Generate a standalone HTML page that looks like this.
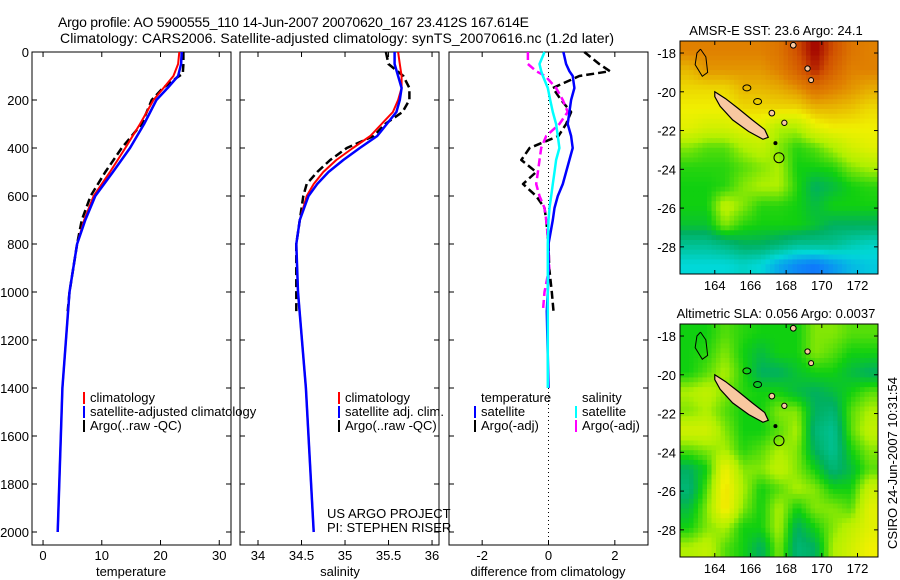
<!DOCTYPE html>
<html><head><meta charset="utf-8"><style>
body{margin:0;background:#fff;}
svg{display:block;font-family:"Liberation Sans",sans-serif;}
</style></head><body>
<svg id="c" width="900" height="580" viewBox="0 0 900 580" xmlns="http://www.w3.org/2000/svg">
<rect width="900" height="580" fill="#fff"/>
<text x="58" y="27" font-size="14" textLength="471">Argo profile: AO 5900555_110 14-Jun-2007 20070620_167 23.412S 167.614E</text>
<text x="60" y="43" font-size="14" textLength="554">Climatology: CARS2006. Satellite-adjusted climatology: synTS_20070616.nc (1.2d later)</text>
<g id="g"></g>
</svg>
<script>
// ---- profile data ----
const depthT=[0,50,100,150,200,300,400,500,600,700,800,1000,1400,2000];
const tempClim=[23.2,23.0,22.2,20.5,18.8,16.5,14.0,11.4,8.6,7.0,5.8,4.5,3.3,2.5];
const tempSat=[23.6,23.5,23.0,21.2,19.3,17.2,14.8,11.9,8.9,7.2,5.8,4.5,3.3,2.5];
const depthArgo=[0,50,90,110,150,200,300,400,500,600,700,800,1000,1080];
const tempArgo=[23.9,23.9,23.8,22.6,20.4,18.5,16.8,13.4,10.6,8.1,6.6,5.8,4.5,4.2];
const depthS=[0,50,100,150,200,250,300,350,400,450,500,550,600,700,800,1000,1400,2000];
const salClim=[35.61,35.63,35.65,35.65,35.61,35.55,35.42,35.29,35.09,34.90,34.75,34.64,34.56,34.48,34.44,34.46,34.55,34.64];
const salSat=[35.57,35.57,35.61,35.65,35.63,35.59,35.48,35.37,35.17,34.98,34.81,34.68,34.58,34.48,34.44,34.46,34.55,34.64];
const depthSA=[0,50,100,150,200,250,300,350,400,450,500,550,600,700,800,1000,1080];
const salArgo=[35.47,35.50,35.67,35.74,35.74,35.66,35.46,35.33,35.02,34.83,34.68,34.56,34.52,34.48,34.44,34.44,34.44];
const depthD=[0,50,80,100,150,200,250,300,350,400,450,500,550,600,650,700,800,900,1000,1080,1400];
const diffTSat=[0.45,0.53,0.63,0.73,0.78,0.68,0.63,0.58,0.68,0.73,0.63,0.53,0.43,0.28,0.18,0.13,0.0,0.0,-0.02,-0.05,0.0];
const diffSSat=[-0.12,-0.27,-0.22,-0.17,-0.02,0.05,0.13,0.23,0.28,0.33,0.23,0.18,0.13,0.08,0.03,0.0,-0.02,-0.02,-0.02,-0.02,-0.02];
const depthDA=[0,50,80,100,150,200,250,300,350,400,450,500,550,600,650,700,800,900,1000,1080];
const diffTArgo=[1.08,1.53,1.85,0.93,0.13,0.38,0.68,0.53,0.3,-0.57,-0.82,-0.37,-0.77,-0.37,-0.12,-0.07,0.0,0.02,0.1,0.15];
const diffSArgo=[-0.62,-0.62,-0.37,-0.1,0.23,0.43,0.58,0.33,-0.07,-0.22,-0.27,-0.32,-0.37,-0.27,-0.12,-0.07,0.0,0.02,-0.12,-0.17];
const depthTicks=[0,200,400,600,800,1000,1200,1400,1600,1800,2000];
const tempTicks=[0,10,20,30];
const salTicks=[34,34.5,35,35.5,36];
const diffTicks=[-2,0,2];
// ---- map data (jet-like index 0..1), 1-degree cells, rows north->south ----
const sstRows=[
[0.8,0.8,0.8,0.8,0.8,0.82,0.88,0.95,0.88,0.82,0.8],
[0.75,0.78,0.78,0.78,0.78,0.8,0.85,0.92,0.85,0.8,0.8],
[0.72,0.72,0.72,0.75,0.75,0.76,0.78,0.82,0.8,0.78,0.76],
[0.7,0.7,0.7,0.72,0.72,0.72,0.72,0.75,0.75,0.74,0.72],
[0.68,0.66,0.66,0.68,0.68,0.62,0.62,0.68,0.7,0.7,0.7],
[0.6,0.58,0.58,0.62,0.64,0.6,0.56,0.58,0.62,0.66,0.68],
[0.56,0.56,0.56,0.58,0.6,0.62,0.55,0.55,0.56,0.6,0.62],
[0.55,0.55,0.56,0.6,0.62,0.62,0.56,0.5,0.52,0.55,0.56],
[0.55,0.55,0.64,0.6,0.56,0.56,0.55,0.52,0.55,0.55,0.55],
[0.53,0.53,0.6,0.56,0.55,0.55,0.55,0.53,0.5,0.5,0.5],
[0.45,0.45,0.47,0.5,0.5,0.48,0.45,0.45,0.45,0.42,0.4],
[0.38,0.38,0.38,0.4,0.38,0.32,0.28,0.26,0.3,0.34,0.36]];
const slaRows=[
[0.55,0.55,0.58,0.56,0.55,0.55,0.55,0.6,0.6,0.58,0.58],
[0.55,0.56,0.6,0.55,0.52,0.55,0.55,0.6,0.58,0.55,0.55],
[0.55,0.58,0.62,0.56,0.5,0.5,0.53,0.55,0.55,0.52,0.5],
[0.62,0.64,0.6,0.56,0.55,0.55,0.52,0.5,0.52,0.55,0.58],
[0.6,0.62,0.58,0.55,0.55,0.6,0.6,0.5,0.48,0.58,0.62],
[0.66,0.66,0.6,0.55,0.55,0.58,0.62,0.48,0.45,0.58,0.64],
[0.58,0.6,0.62,0.56,0.58,0.62,0.6,0.5,0.45,0.55,0.6],
[0.5,0.55,0.7,0.6,0.6,0.64,0.6,0.55,0.48,0.52,0.58],
[0.48,0.58,0.72,0.62,0.55,0.58,0.62,0.6,0.55,0.55,0.65],
[0.52,0.6,0.72,0.6,0.55,0.62,0.55,0.6,0.6,0.58,0.68],
[0.55,0.6,0.62,0.55,0.55,0.62,0.5,0.55,0.6,0.64,0.68],
[0.62,0.64,0.58,0.55,0.5,0.6,0.48,0.5,0.62,0.66,0.7]];
const lonTicks=[164,166,168,170,172];
const latTicks=[-18,-20,-22,-24,-26,-28];

const NS="http://www.w3.org/2000/svg";
const G=document.getElementById('g');
function el(t,a,p){const e=document.createElementNS(NS,t);for(const k in a)e.setAttribute(k,a[k]);(p||G).appendChild(e);return e;}
const yD=d=>52+0.24*d;
function panel(x0,x1,xmin,xmax,name){
  const sx=v=>x0+(v-xmin)/(xmax-xmin)*(x1-x0);
  const g=el('g',{});
  
  
  const r=el('rect',{x:x0,y:52,width:x1-x0,height:493,fill:'none',stroke:'#000','stroke-width':1},g);
  
  
  return {sx,g};
}
function line(p,xs,ds,col,w,dash,name){
  const pts=xs.map((v,i)=>p.sx(v).toFixed(1)+','+yD(ds[i]).toFixed(1)).join(' ');
  const a={points:pts,fill:'none',stroke:col,'stroke-width':w,'stroke-linejoin':'round'};
  if(dash)a['stroke-dasharray']=dash;
  const e=el('polyline',a,p.g);
  
  
}
function xticks(p,ticks){
  ticks.forEach(t=>{const x=p.sx(t);
    el('line',{x1:x,x2:x,y1:545,y2:540,stroke:'#000'},p.g);
    el('line',{x1:x,x2:x,y1:52,y2:57,stroke:'#000'},p.g);
    const tx=el('text',{x:x,y:560,'font-size':13,'text-anchor':'middle'},p.g);tx.textContent=t;
    
    
  });
}
function yticks(p,x0,x1,labels){
  depthTicks.forEach(d=>{const y=yD(d);
    el('line',{x1:x0,x2:x0+5,y1:y,y2:y,stroke:'#000'},p.g);
    el('line',{x1:x1,x2:x1-5,y1:y,y2:y,stroke:'#000'},p.g);
    if(labels){const t=el('text',{x:x0-3,y:y+5,'font-size':13,'text-anchor':'end'},p.g);t.textContent=d;
      
      }
  });
}
function txt(x,y,s,name,extra){const t=el('text',Object.assign({x:x,y:y,'font-size':13},extra||{}));t.textContent=s;
  
  return t;}
function legMark(x,y,col){el('rect',{x:x,y:y-10,width:2,height:12,fill:col});}

// Panel 1 temperature
const p1=panel(32,231,-1.88,32,'temperature-panel');
yticks(p1,32,231,true);xticks(p1,tempTicks);
line(p1,tempArgo,depthArgo,'#000',2.5,'8,4','temp-argo-line');
line(p1,tempClim,depthT,'#f00',2,null,'temp-climatology-line');
line(p1,tempSat,depthT,'#00f',2.5,null,'temp-satellite-line');
txt(131,576,'temperature','x-axis-title-temperature',{'text-anchor':'middle'});
legMark(83,402,'#f00');txt(90,402,'climatology','legend-climatology');
legMark(83,416,'#00f');txt(90,416,'satellite-adjusted climatology','legend-satellite');
legMark(83,430,'#000');txt(90,430,'Argo(..raw -QC)','legend-argo');

// Panel 2 salinity
const p2=panel(240,439,33.793,36.08,'salinity-panel');
yticks(p2,240,439,false);xticks(p2,salTicks);
line(p2,salArgo,depthSA,'#000',2.5,'8,4','sal-argo-line');
line(p2,salClim,depthS,'#f00',2,null,'sal-climatology-line');
line(p2,salSat,depthS,'#00f',2.5,null,'sal-satellite-line');
txt(340,576,'salinity','x-axis-title-salinity',{'text-anchor':'middle'});
legMark(338,402,'#f00');txt(345,402,'climatology','legend-sal-climatology');
legMark(338,416,'#00f');txt(345,416,'satellite adj. clim.','legend-sal-satellite');
legMark(338,430,'#000');txt(345,430,'Argo(..raw -QC)','legend-sal-argo');
txt(327,518,'US ARGO PROJECT','project-label');
txt(327,532,'PI: STEPHEN RISER','pi-label');

// Panel 3 differences
const p3=panel(449,648,-3,3,'difference-panel');
yticks(p3,449,648,false);xticks(p3,diffTicks);
el('line',{x1:p3.sx(0),x2:p3.sx(0),y1:52,y2:545,stroke:'#000','stroke-dasharray':'1,3'},p3.g);
line(p3,diffTArgo,depthDA,'#000',2.5,'8,4','diff-temp-argo-line');
line(p3,diffSArgo,depthDA,'#f0f',2.5,'8,4','diff-sal-argo-line');
line(p3,diffTSat,depthD,'#00f',2.5,null,'diff-temp-satellite-line');
line(p3,diffSSat,depthD,'#0ff',2.5,null,'diff-sal-satellite-line');
txt(548,576,'difference from climatology','x-axis-title-difference',{'text-anchor':'middle'});
txt(481,402,'temperature','legend-header-temperature');txt(582,402,'salinity','legend-header-salinity');
legMark(474,416,'#00f');txt(481,416,'satellite','legend-diff-temp-satellite');
legMark(474,430,'#000');txt(481,430,'Argo(-adj)','legend-diff-temp-argo');
legMark(575,416,'#0ff');txt(582,416,'satellite','legend-diff-sal-satellite');
legMark(575,430,'#f0f');txt(582,430,'Argo(-adj)','legend-diff-sal-argo');

// ---- maps ----
const stops=[[0.25,[16,112,255]],[0.38,[0,216,216]],[0.5,[0,176,96]],[0.55,[16,208,16]],[0.62,[176,240,0]],[0.7,[240,240,0]],[0.8,[224,128,0]],[0.88,[208,80,0]],[0.95,[160,0,0]]];
function cmap(v){if(v<=stops[0][0])return 'rgb('+stops[0][1]+')';
  for(let i=1;i<stops.length;i++){if(v<=stops[i][0]){const a=stops[i-1],b=stops[i],t=(v-a[0])/(b[0]-a[0]);
    return 'rgb('+a[1].map((c,k)=>Math.round(c+(b[1][k]-c)*t)).join(',')+')';}}
  return 'rgb('+stops[stops.length-1][1]+')';}
function sample(rows,fi,fj){
  const nr=rows.length,nc=rows[0].length;
  fi=Math.max(0,Math.min(nr-1,fi));fj=Math.max(0,Math.min(nc-1,fj));
  const i0=Math.floor(fi),j0=Math.floor(fj),i1=Math.min(nr-1,i0+1),j1=Math.min(nc-1,j0+1),ti=fi-i0,tj=fj-j0;
  return rows[i0][j0]*(1-ti)*(1-tj)+rows[i0][j1]*(1-ti)*tj+rows[i1][j0]*ti*(1-tj)+rows[i1][j1]*ti*tj;
}
function map(top,rows,title,name){
  const L=680,R=878,B=top+233,lon0=162.05,lon1=173.15,lat0=-17.38,lat1=-29.4;
  const sx=lo=>L+(lo-lon0)/(lon1-lon0)*(R-L), sy=la=>top+(la-lat0)/(lat1-lat0)*(B-top);
  const g=el('g',{});
  
  
  const S=4,nr=rows.length,nc=rows[0].length;
  const cw=(R-L)/(nc*S),ch=(B-top)/(nr*S);
  for(let i=0;i<nr*S;i++)for(let j=0;j<nc*S;j++){
    const v=sample(rows,(i+0.5)/S-0.5,(j+0.5)/S-0.5);
    el('rect',{x:(L+j*cw).toFixed(2),y:(top+i*ch).toFixed(2),width:(cw+0.5).toFixed(2),height:(ch+0.5).toFixed(2),fill:cmap(v)},g);}
  // land
  const isl=[[164.0,-20.0],[164.6,-20.35],[165.3,-20.85],[166.1,-21.45],[166.8,-21.95],[167.0,-22.35],[166.7,-22.45],[165.9,-22.05],[165.0,-21.45],[164.3,-20.75],[164.0,-20.25]];
  el('polygon',{points:isl.map(p=>sx(p[0])+','+sy(p[1])).join(' '),fill:'#f8c8a0',stroke:'#000','stroke-width':1.2},g);
  [[167.2,-21.1,0.15],[167.9,-21.6,0.14],[169.2,-18.8,0.14],[169.4,-19.4,0.13],[168.4,-17.6,0.15]].forEach(c=>
    el('ellipse',{cx:sx(c[0]),cy:sy(c[1]),rx:c[2]*19,ry:c[2]*19,fill:'#f8c8a0',stroke:'#000'},g));
  el('polyline',{points:[[163.2,-17.8],[163.5,-18.2],[163.6,-19.0],[163.3,-19.2],[162.9,-18.6],[163.0,-18.0],[163.2,-17.8]].map(p=>sx(p[0])+','+sy(p[1])).join(' '),fill:'none',stroke:'#000'},g);
  el('ellipse',{cx:sx(165.8),cy:sy(-19.8),rx:4,ry:3,fill:'none',stroke:'#000'},g);
  el('ellipse',{cx:sx(166.4),cy:sy(-20.5),rx:4,ry:3,fill:'none',stroke:'#000'},g);
  el('circle',{cx:sx(167.4),cy:sy(-22.65),r:2,fill:'#000'},g);
  const pos=el('circle',{cx:sx(167.6),cy:sy(-23.4),r:5,fill:'none',stroke:'#000'},g);
  
  
  el('rect',{x:L,y:top,width:R-L,height:B-top,fill:'none',stroke:'#000'},g);
  lonTicks.forEach(lo=>{const x=sx(lo);el('line',{x1:x,x2:x,y1:B,y2:B-4,stroke:'#000'},g);el('line',{x1:x,x2:x,y1:top,y2:top+4,stroke:'#000'},g);
    const t=el('text',{x:x,y:B+16,'font-size':13,'text-anchor':'middle'},g);t.textContent=lo;
    
    });
  latTicks.forEach(la=>{const y=sy(la);el('line',{x1:L,x2:L+4,y1:y,y2:y,stroke:'#000'},g);el('line',{x1:R,x2:R-4,y1:y,y2:y,stroke:'#000'},g);
    const t=el('text',{x:L-4,y:y+5,'font-size':13,'text-anchor':'end'},g);t.textContent=la;
    
    });
  const tt=el('text',{x:776,y:top-6,'font-size':13,'text-anchor':'middle'},g);tt.textContent=title;
  
  
}
map(41,sstRows,'AMSR-E SST: 23.6 Argo: 24.1','sst-map');
map(324,slaRows,'Altimetric SLA: 0.056 Argo: 0.0037','sla-map');
txt(897,463,'CSIRO 24-Jun-2007 10:31:54','timestamp-label',{'text-anchor':'middle',transform:'rotate(-90 897 463)'});
</script>
</body></html>
